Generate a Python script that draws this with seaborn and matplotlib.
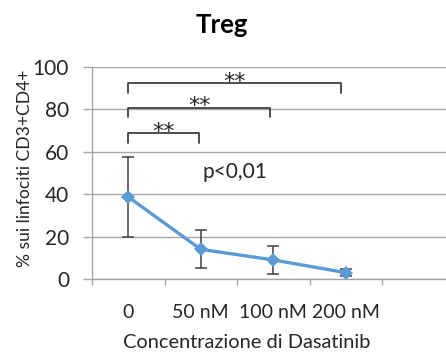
import matplotlib
matplotlib.use("Agg")
import matplotlib.pyplot as plt
import seaborn as sns
import pandas as pd
import numpy as np

categories = ["0", "50 nM", "100 nM", "200 nM"]
means = [38.7, 14.0, 9.0, 3.0]
errors = [19.0, 9.0, 6.5, 1.5]
y_ticks = [0, 20, 40, 60, 80, 100]
title = "Treg"
x_label = "Concentrazione di Dasatinib"
y_label = "% sui linfociti CD3+CD4+"
p_text = "p<0,01"
sig_label = "**"

sns.set_theme(style="white")
FONT = ["Lato", "DejaVu Sans"]
plt.rcParams["font.family"] = FONT

W, H = 446, 354
fig = plt.figure(figsize=(W / 100, H / 100), dpi=100)
left_px, right_px, bottom_px, top_px = 92, 454.5, 279, 67
ax = fig.add_axes([left_px / W, 1 - bottom_px / H, (right_px - left_px) / W, (bottom_px - top_px) / H])

df = pd.DataFrame({"x": np.arange(len(categories)), "mean": means, "err": errors})

line_color = "#5B9BD5"
ax.errorbar(df["x"], df["mean"], yerr=df["err"], fmt="none", ecolor="#404040",
            elinewidth=1.1, capsize=4.3, capthick=1.1, zorder=2)
sns.lineplot(data=df, x="x", y="mean", ax=ax, color=line_color, linewidth=2.4,
             marker="D", markersize=7, markeredgewidth=0, zorder=3)

ax.set_xlim(-0.5, 4.5)
ax.set_ylim(0, 100)
ax.set_yticks(y_ticks)
ax.set_yticklabels([str(t) for t in y_ticks])
ax.set_xticks(range(len(categories)))
ax.set_xticklabels(categories)
ax.set_xticks(np.arange(-0.5, 5.0, 1.0), minor=True)

grid_c = "#a6a6a6"
ax.yaxis.grid(True, color=grid_c, linewidth=1.0, zorder=0)
ax.xaxis.grid(False)
for s in ["top", "right"]:
    ax.spines[s].set_visible(False)
ax.spines["left"].set_color(grid_c)
ax.spines["bottom"].set_color(grid_c)
ax.spines["left"].set_linewidth(1.0)
ax.spines["bottom"].set_linewidth(1.0)
ax.set_axisbelow(True)

ax.tick_params(axis="y", which="major", left=True, length=6.5, width=1.0, color=grid_c,
               labelsize=15, labelcolor="#262626", pad=10)
ax.tick_params(axis="x", which="major", bottom=False, length=0, labelsize=14,
               labelcolor="#262626", pad=18)
ax.tick_params(axis="x", which="minor", bottom=True, length=4, width=1.0, color=grid_c)

ax.set_xlabel("")
ax.set_ylabel("")
fig.text(247 / W, 1 - 343 / H, x_label, ha="center", va="center",
         fontsize=14.4, color="#262626")
fig.text(25 / W, 1 - 168 / H, y_label, rotation=90, ha="center", va="center",
         fontsize=12.6, color="#262626")
fig.text(222 / W, 1 - 25 / H, title, ha="center", va="center", fontsize=18.5,
         fontweight="bold", color="#000000")

# significance brackets
brackets = [(0.0, 0.97, 69.0, 64.3, 72.6), (0.0, 1.955, 80.8, 76.6, 84.8), (0.0, 2.93, 92.3, 87.9, 96.2)]
for x0, x1, ytop, ybot, ystar in brackets:
    ax.plot([x0, x0, x1, x1], [ybot, ytop, ytop, ybot], color="#404040", linewidth=1.3,
            solid_joinstyle="round", clip_on=False, zorder=4)
    ax.text((x0 + x1) / 2, ystar - 6.0, sig_label, ha="center", va="baseline", fontsize=16,
            family=["DejaVu Sans"], color="#262626", zorder=4)

ax.text(1.03, 50.5, p_text, ha="left", va="center", fontsize=15, color="#262626")

fig.savefig("out.png", dpi=100)
